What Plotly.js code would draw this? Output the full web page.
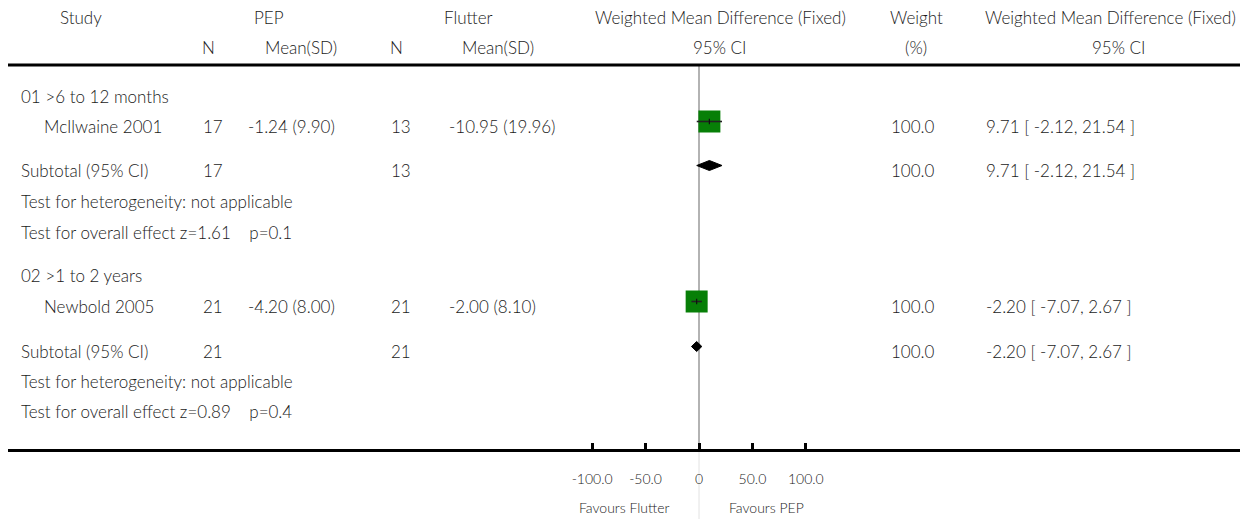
<!DOCTYPE html>
<html>
<head>
<meta charset="utf-8">
<script src="https://cdn.plot.ly/plotly-3.0.1.min.js"></script>
<style>html,body{margin:0;padding:0;background:#fff;}#chart{width:1250px;height:519px;}</style>
</head>
<body>
<div id="chart"></div>
<script>
// ---------------- data ----------------
const groups = ["01 >6 to 12 months", "02 >1 to 2 years"];
const studies = ["McIlwaine 2001", "Newbold 2005"];
const pepN = [17, 21];
const pepMeanSD = ["-1.24 (9.90)", "-4.20 (8.00)"];
const flutterN = [13, 21];
const flutterMeanSD = ["-10.95 (19.96)", "-2.00 (8.10)"];
const wmd = [9.71, -2.20];
const ciLow = [-2.12, -7.07];
const ciHigh = [21.54, 2.67];
const weights = [100.0, 100.0];
const subN1 = [17, 21];
const subN2 = [13, 21];
const subWmd = [9.71, -2.20];
const subLow = [-2.12, -7.07];
const subHigh = [21.54, 2.67];
const subWeights = [100.0, 100.0];
const hetText = ["Test for heterogeneity: not applicable", "Test for heterogeneity: not applicable"];
const overallZ = ["1.61", "0.89"];
const overallP = ["0.1", "0.4"];
const tickVals = [-100, -50, 0, 50, 100];
const tickText = ["-100.0", "-50.0", "0", "50.0", "100.0"];
const favourLeft = "Favours Flutter";
const favourRight = "Favours PEP";

// ---------------- layout positions ----------------
const W = 1250, H = 519;
const AXIS_Y = 449;
const groupY = [96, 275];
const studyY = [126, 306];
const subY = [170, 351];
const hetY = [201, 381];
const overY = [232, 411];
const MARK_SHIFT = -4.5;
const FONT = "Lato, 'Open Sans', sans-serif";
const TXT = "#1a1a1a";
const FS = 17;
const px = v => v / W;

const fmt1 = v => v.toFixed(1);
const fmt2 = v => v.toFixed(2);
const ciStr = (e, l, h) => fmt2(e) + " [ " + fmt2(l) + ", " + fmt2(h) + " ]";

const ann = [];
function T(text, x, y, align, size, yref) {
  ann.push({text: text, x: px(x), xref: "paper", y: y, yref: yref || "y",
    xanchor: align || "left", yanchor: "middle", showarrow: false,
    font: {family: FONT, size: size || FS, color: TXT, weight: 300}});
}

// headers
T("Study", 81, 17, "center");
T("PEP", 269, 17, "center");
T("Flutter", 468, 17, "center");
T("Weighted Mean Difference (Fixed)", 720, 17, "center");
T("Weight", 916, 17, "center");
T("Weighted Mean Difference (Fixed)", 1110, 17, "center");
T("N", 208, 47, "center");
T("Mean(SD)", 301, 47, "center");
T("N", 396, 47, "center");
T("Mean(SD)", 498, 47, "center");
T("95% CI", 720, 47, "center");
T("(%)", 916, 47, "center");
T("95% CI", 1119, 47, "center");

for (let i = 0; i < groups.length; i++) {
  T(groups[i], 19, groupY[i]);
  T(studies[i], 42, studyY[i]);
  T(String(pepN[i]), 201, studyY[i]);
  T(pepMeanSD[i], 246, studyY[i]);
  T(String(flutterN[i]), 389, studyY[i]);
  T(flutterMeanSD[i], 447, studyY[i]);
  T(fmt1(weights[i]), 889, studyY[i]);
  T(ciStr(wmd[i], ciLow[i], ciHigh[i]), 984, studyY[i]);
  T("Subtotal (95% CI)", 19, subY[i]);
  T(String(subN1[i]), 201, subY[i]);
  T(String(subN2[i]), 389, subY[i]);
  T(fmt1(subWeights[i]), 889, subY[i]);
  T(ciStr(subWmd[i], subLow[i], subHigh[i]), 984, subY[i]);
  T(hetText[i], 19, hetY[i]);
  T("Test for overall effect z=" + overallZ[i] + "&nbsp;&nbsp;&nbsp;&nbsp;p=" + overallP[i], 19, overY[i]);
}
// favours labels
ann.push({text: favourLeft, x: 0, xref: "x", xshift: -27, y: 1 - 507 / H, yref: "paper",
  xanchor: "right", yanchor: "middle", showarrow: false, font: {family: FONT, size: 14, color: TXT, weight: 300}});
ann.push({text: favourRight, x: 0, xref: "x", xshift: 28, y: 1 - 507 / H, yref: "paper",
  xanchor: "left", yanchor: "middle", showarrow: false, font: {family: FONT, size: 14, color: TXT, weight: 300}});

// ---------------- traces ----------------
const traces = [];
// study squares
traces.push({type: "scatter", mode: "markers", x: wmd, y: studyY.map(v => v + MARK_SHIFT),
  marker: {symbol: "square", size: 22, color: "#077f07", line: {width: 0}},
  hoverinfo: "skip", showlegend: false});
// CI lines
for (let i = 0; i < wmd.length; i++) {
  traces.push({type: "scatter", mode: "lines", x: [ciLow[i], ciHigh[i]],
    y: [studyY[i] + MARK_SHIFT, studyY[i] + MARK_SHIFT],
    line: {color: "#222", width: 1.6}, hoverinfo: "skip", showlegend: false});
}
// point estimate tick
traces.push({type: "scatter", mode: "markers", x: wmd, y: studyY.map(v => v + MARK_SHIFT),
  marker: {symbol: "line-ns", size: 4, line: {color: "#111", width: 1.2}},
  hoverinfo: "skip", showlegend: false});
// subtotal diamonds
for (let i = 0; i < subWmd.length; i++) {
  const yc = subY[i] + MARK_SHIFT;
  traces.push({type: "scatter", mode: "lines", fill: "toself", fillcolor: "#000",
    x: [subLow[i], subWmd[i], subHigh[i], subWmd[i], subLow[i]],
    y: [yc, yc - 5, yc, yc + 5, yc],
    line: {color: "#000", width: 1}, hoverinfo: "skip", showlegend: false});
}

const layout = {
  width: W, height: H,
  margin: {l: 0, r: 0, t: 0, b: 0, pad: 0},
  paper_bgcolor: "#fff", plot_bgcolor: "rgba(0,0,0,0)",
  showlegend: false,
  xaxis: {
    domain: [8 / W, 1240 / W],
    range: [(8 - 699) / 1.0685, (1240 - 699) / 1.0685],
    showgrid: false, zeroline: false,
    showline: true, linecolor: "#000", linewidth: 3,
    ticks: "inside", ticklen: 6, tickwidth: 3, tickcolor: "#000",
    tickvals: tickVals, ticktext: tickText,
    tickfont: {family: FONT, size: 14, color: TXT, weight: 300},
    ticklabelstandoff: 15,
    fixedrange: true
  },
  yaxis: {
    domain: [(H - AXIS_Y) / H, 1],
    range: [AXIS_Y, 0],
    visible: false, showgrid: false, zeroline: false, fixedrange: true
  },
  shapes: [
    {type: "line", xref: "paper", yref: "y", x0: 8 / W, x1: 1240 / W, y0: 65, y1: 65,
      line: {color: "#000", width: 3}},
    {type: "line", xref: "x", yref: "y", x0: 0, x1: 0, y0: 66, y1: AXIS_Y,
      line: {color: "#9a9a9a", width: 1.5}, layer: "below"},
    {type: "line", xref: "x", yref: "paper", x0: 0, x1: 0, y0: 0, y1: (H - AXIS_Y - 2) / H,
      line: {color: "#e2e2e2", width: 1}, layer: "below"}
  ],
  annotations: ann
};

Plotly.newPlot("chart", traces, layout, {staticPlot: true, displayModeBar: false});
</script>
</body>
</html>
